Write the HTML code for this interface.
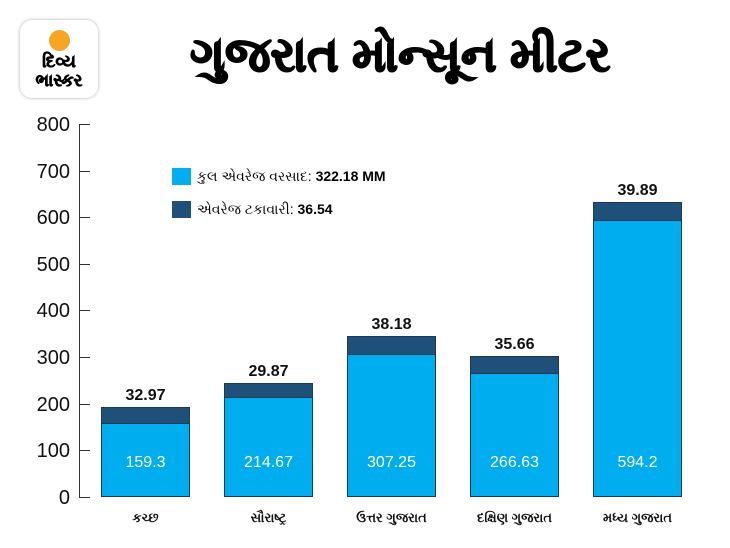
<!DOCTYPE html><html><head><meta charset="utf-8"><style>
body{margin:0;width:730px;height:548px;background:#fff;font-family:"Liberation Sans",sans-serif;overflow:hidden;position:relative}
.a{position:absolute}
.bar{position:absolute;width:89px;box-sizing:border-box;border:1px solid #1a3a5a}
.l{background:#00aeef}.d{background:#1e5079}
.yl{position:absolute;left:20px;width:50px;text-align:right;font-size:20px;color:#111}
.tk{position:absolute;left:79px;width:11px;height:1px;background:#333}
.tv{position:absolute;width:89px;text-align:center;font-weight:bold;font-size:16px;color:#111}
.iv{position:absolute;width:89px;text-align:center;font-size:16px;color:#fff}
.cl{position:absolute;width:123px;text-align:center;font-weight:bold;font-size:13px;color:#111;top:510px}
</style></head><body>
<div class="a" style="left:20px;top:20px;width:78px;height:78px;border-radius:12px;background:#fff;box-shadow:0 0 3px #aaa"></div>
<div class="a" style="left:49px;top:30px;width:21px;height:21px;border-radius:50%;background:#f6a623"></div>
<div class="a" style="left:20px;top:52px;width:78px;text-align:center;font-weight:bold;font-size:17px;line-height:19px;-webkit-text-stroke:0.6px #000">દિવ્ય<br>ભાસ્કર</div>
<div class="a" style="left:190px;top:28px;font-weight:bold;font-size:48px;color:#000;-webkit-text-stroke:1.5px #000">ગુજરાત મોન્સૂન મીટર</div>
<div class="a" style="left:79px;top:124px;width:1px;height:373px;background:#333"></div>
<div class="tk" style="top:124px"></div><div class="tk" style="top:171px"></div><div class="tk" style="top:217px"></div><div class="tk" style="top:264px"></div><div class="tk" style="top:310px"></div><div class="tk" style="top:357px"></div><div class="tk" style="top:404px"></div><div class="tk" style="top:450px"></div><div class="tk" style="top:497px"></div>
<div class="yl" style="top:114px">800</div><div class="yl" style="top:161px">700</div><div class="yl" style="top:207px">600</div><div class="yl" style="top:254px">500</div><div class="yl" style="top:300px">400</div><div class="yl" style="top:347px">300</div><div class="yl" style="top:394px">200</div><div class="yl" style="top:440px">100</div><div class="yl" style="top:487px">0</div>
<div class="a" style="left:172px;top:168px;width:19px;height:17px;background:#00aeef"></div>
<div class="a" style="left:197px;top:168px;font-size:14px">કુલ એવરેજ વરસાદ: <b>322.18 MM</b></div>
<div class="a" style="left:172px;top:201px;width:19px;height:17px;background:#1e5079"></div>
<div class="a" style="left:197px;top:201px;font-size:14px">એવરેજ ટકાવારી: <b>36.54</b></div>

<div class="bar d" style="left:101px;top:407px;height:90px"></div><div class="bar l" style="left:101px;top:423px;height:74px"></div>
<div class="bar d" style="left:224px;top:383px;height:114px"></div><div class="bar l" style="left:224px;top:397px;height:100px"></div>
<div class="bar d" style="left:347px;top:336px;height:161px"></div><div class="bar l" style="left:347px;top:354px;height:143px"></div>
<div class="bar d" style="left:470px;top:356px;height:141px"></div><div class="bar l" style="left:470px;top:373px;height:124px"></div>
<div class="bar d" style="left:593px;top:202px;height:295px"></div><div class="bar l" style="left:593px;top:220px;height:277px"></div>

<div class="tv" style="left:101px;top:387px">32.97</div>
<div class="tv" style="left:224px;top:363px">29.87</div>
<div class="tv" style="left:347px;top:316px">38.18</div>
<div class="tv" style="left:470px;top:336px">35.66</div>
<div class="tv" style="left:593px;top:182px">39.89</div>
<div class="iv" style="left:101px;top:454px">159.3</div>
<div class="iv" style="left:224px;top:454px">214.67</div>
<div class="iv" style="left:347px;top:454px">307.25</div>
<div class="iv" style="left:470px;top:454px">266.63</div>
<div class="iv" style="left:593px;top:454px">594.2</div>

<div class="cl" style="left:84px">કચ્છ</div>
<div class="cl" style="left:207px">સૌરાષ્ટ્ર</div>
<div class="cl" style="left:330px">ઉત્તર ગુજરાત</div>
<div class="cl" style="left:453px">દક્ષિણ ગુજરાત</div>
<div class="cl" style="left:576px">મધ્ય ગુજરાત</div>
</body></html>
